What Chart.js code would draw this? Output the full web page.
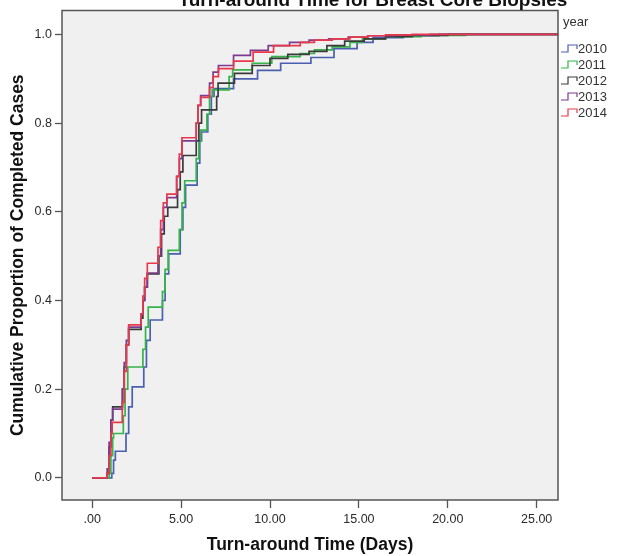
<!DOCTYPE html>
<html>
<head>
<meta charset="utf-8">
<title>Turn-around Time for Breast Core Biopsies</title>
<script src="https://cdn.jsdelivr.net/npm/chart.js@4.4.1/dist/chart.umd.min.js"></script>
<style>
  body { margin: 0; background: #fff; }
  #wrap { width: 624px; height: 556px; }
</style>
</head>
<body>
<div id="wrap"><canvas id="tatChart" width="624" height="556"></canvas></div>
<script>
// cumulative proportion of completed cases (step points)
const years = ['2010', '2011', '2012', '2013', '2014'];
const yearColors = ['#4a5fb0', '#35b44a', '#3a3a3a', '#7b3b8e', '#e8384a'];

const days2010 = [0, 1.1, 1.2, 1.3, 1.9, 2.05, 2.25, 2.9, 3.05, 3.26, 3.95, 4.1, 4.3, 4.95, 5.1, 5.25, 5.9, 6.05, 6.15, 6.5, 6.7, 6.85, 7.95, 9.3, 10.6, 12.3, 13.6, 14.9, 15.8, 17.5, 19.5, 27];
const prop2010 = [0, 0.01, 0.04, 0.06, 0.10, 0.16, 0.205, 0.25, 0.31, 0.356, 0.40, 0.46, 0.505, 0.56, 0.61, 0.66, 0.71, 0.76, 0.78, 0.82, 0.86, 0.878, 0.90, 0.919, 0.935, 0.948, 0.968, 0.982, 0.993, 0.997, 1.0, 1.0];

const days2011 = [0, 0.95, 1.05, 1.15, 1.2, 1.75, 1.85, 2.0, 2.85, 3.0, 3.15, 3.95, 4.1, 4.27, 4.9, 5.05, 5.2, 5.85, 6.0, 6.1, 6.45, 6.6, 6.75, 7.7, 7.9, 9.0, 10.1, 11.7, 12.5, 13.5, 14.5, 15.2, 16.5, 18.5, 21, 27];
const prop2011 = [0, 0.01, 0.05, 0.09, 0.10, 0.14, 0.20, 0.25, 0.29, 0.34, 0.385, 0.42, 0.47, 0.513, 0.56, 0.62, 0.67, 0.72, 0.76, 0.784, 0.82, 0.86, 0.875, 0.905, 0.92, 0.935, 0.95, 0.957, 0.965, 0.972, 0.982, 0.99, 0.995, 0.998, 1.0, 1.0];

const days2012 = [0, 0.84, 0.95, 1.05, 1.15, 1.7, 1.8, 1.92, 2.05, 2.75, 2.85, 2.95, 3.1, 3.75, 3.9, 4.05, 4.25, 4.8, 4.95, 5.1, 5.85, 6.0, 6.15, 7.0, 7.08, 8.0, 9.0, 10.0, 11.0, 12.2, 13.2, 14.2, 15.3, 16.5, 18, 20, 27];
const prop2012 = [0, 0.01, 0.07, 0.13, 0.16, 0.20, 0.25, 0.30, 0.335, 0.36, 0.40, 0.43, 0.46, 0.50, 0.55, 0.59, 0.61, 0.65, 0.69, 0.727, 0.76, 0.80, 0.83, 0.86, 0.89, 0.912, 0.93, 0.946, 0.955, 0.962, 0.975, 0.985, 0.99, 0.995, 0.998, 1.0, 1.0];

const days2013 = [0, 0.84, 0.95, 1.05, 1.15, 1.7, 1.8, 1.92, 2.05, 2.75, 2.85, 2.95, 3.1, 3.7, 3.85, 4.0, 4.2, 4.75, 4.9, 5.05, 5.85, 5.95, 6.1, 6.6, 6.8, 7.1, 7.95, 8.9, 9.9, 11.1, 12.2, 13.3, 14.4, 15.5, 17, 19, 27];
const prop2013 = [0, 0.02, 0.08, 0.13, 0.155, 0.20, 0.26, 0.31, 0.34, 0.37, 0.40, 0.43, 0.462, 0.50, 0.56, 0.61, 0.632, 0.68, 0.72, 0.76, 0.80, 0.84, 0.862, 0.89, 0.915, 0.93, 0.953, 0.964, 0.975, 0.982, 0.987, 0.99, 0.994, 0.997, 0.999, 1.0, 1.0];

const days2014 = [0, 0.84, 0.95, 1.05, 1.12, 1.69, 1.8, 1.92, 2.05, 2.75, 2.85, 2.95, 3.1, 3.7, 3.85, 4.0, 4.2, 4.75, 4.9, 5.05, 5.85, 5.95, 6.1, 6.6, 6.8, 7.1, 7.95, 9.05, 10.2, 11.7, 12.5, 13.5, 14.5, 15.5, 16.5, 18, 27];
const prop2014 = [0, 0.01, 0.05, 0.10, 0.125, 0.17, 0.24, 0.30, 0.345, 0.37, 0.41, 0.45, 0.484, 0.52, 0.58, 0.62, 0.64, 0.68, 0.73, 0.767, 0.80, 0.84, 0.858, 0.88, 0.905, 0.923, 0.94, 0.96, 0.975, 0.982, 0.987, 0.99, 0.994, 0.997, 0.999, 1.0, 1.0];

const xTicks = [0, 5, 10, 15, 20, 25];
const xTickLabels = ['.00', '5.00', '10.00', '15.00', '20.00', '25.00'];
const yTicks = [0, 0.2, 0.4, 0.6, 0.8, 1.0];
const yTickLabels = ['0.0', '0.2', '0.4', '0.6', '0.8', '1.0'];

const allDays = [days2010, days2011, days2012, days2013, days2014];
const allProps = [prop2010, prop2011, prop2012, prop2013, prop2014];

Chart.defaults.font.family = "'Liberation Sans', Arial, sans-serif";
Chart.defaults.color = '#333';

const FONT = "'Liberation Sans', Arial, sans-serif";

// gray plot background, frame, cut-off title and the step legend
const decorations = {
    id: 'decorations',
    beforeDraw(chart) {
        const a = chart.chartArea;
        const ctx = chart.ctx;
        ctx.save();
        ctx.fillStyle = '#f0f0f0';
        ctx.fillRect(a.left, a.top, a.right - a.left, a.bottom - a.top);
        ctx.restore();
    },
    afterDraw(chart) {
        const a = chart.chartArea;
        const ctx = chart.ctx;
        ctx.save();
        ctx.strokeStyle = '#555';
        ctx.lineWidth = 1.5;
        ctx.strokeRect(a.left, a.top, a.right - a.left, a.bottom - a.top);

        // title sits mostly above the canvas, like the original
        ctx.fillStyle = '#111';
        ctx.font = 'bold 19px ' + FONT;
        ctx.textAlign = 'center';
        ctx.textBaseline = 'alphabetic';
        ctx.fillText('Turn-around Time for Breast Core Biopsies', 373, 6);

        // legend
        ctx.font = '13px ' + FONT;
        ctx.textAlign = 'left';
        ctx.textBaseline = 'middle';
        ctx.fillStyle = '#333';
        ctx.fillText('year', a.right + 5, 22);
        years.forEach((yr, i) => {
            const y = 48 + i * 16;
            const x0 = a.right + 3;
            ctx.strokeStyle = yearColors[i];
            ctx.lineWidth = 1.2;
            ctx.beginPath();
            ctx.moveTo(x0, y + 4);
            ctx.lineTo(x0 + 7, y + 4);
            ctx.lineTo(x0 + 7, y - 3);
            ctx.lineTo(x0 + 16, y - 3);
            ctx.lineTo(x0 + 16, y + 1);
            ctx.stroke();
            ctx.fillStyle = '#333';
            ctx.fillText(yr, x0 + 17, y + 1);
        });
        ctx.restore();
    }
};

let ctx = document.getElementById('tatChart').getContext('2d');
let tatChart = new Chart(ctx, {
    type: 'line',
    data: {
        datasets: years.map((yr, i) => ({
            label: yr,
            data: allDays[i].map((d, j) => ({ x: d, y: allProps[i][j] })),
            borderColor: yearColors[i],
            borderWidth: 1.7,
            stepped: 'before',
            pointRadius: 0,
            fill: false,
            order: years.length - i // 2014 drawn on top
        }))
    },
    options: {
        responsive: false,
        animation: false,
        events: [],
        layout: {
            padding: { top: 10, right: 66, left: 0, bottom: 0 }
        },
        scales: {
            x: {
                type: 'linear',
                min: -1.7,
                max: 26.2,
                afterFit: scale => { scale.height = 56; },
                afterBuildTicks: scale => { scale.ticks = xTicks.map(v => ({ value: v })); },
                ticks: {
                    autoSkip: false,
                    maxRotation: 0,
                    padding: 4,
                    font: { size: 12.5 },
                    color: '#2a2a2a',
                    callback: (value) => xTickLabels[xTicks.indexOf(value)]
                },
                grid: {
                    drawOnChartArea: false,
                    drawTicks: true,
                    tickLength: 8,
                    tickWidth: 1.3,
                    tickColor: '#555'
                },
                border: { display: false },
                title: {
                    display: true,
                    text: 'Turn-around Time (Days)',
                    font: { size: 17.5, weight: 'bold' },
                    color: '#111',
                    padding: { top: 0, bottom: 0 }
                }
            },
            y: {
                type: 'linear',
                min: -0.05,
                max: 1.054,
                afterFit: scale => { scale.width = 62; },
                afterBuildTicks: scale => { scale.ticks = yTicks.map(v => ({ value: v })); },
                ticks: {
                    autoSkip: false,
                    padding: 3,
                    font: { size: 12.5 },
                    color: '#2a2a2a',
                    callback: (value) => yTickLabels[yTicks.indexOf(value)]
                },
                grid: {
                    drawOnChartArea: false,
                    drawTicks: true,
                    tickLength: 7,
                    tickWidth: 1.3,
                    tickColor: '#555'
                },
                border: { display: false },
                title: {
                    display: true,
                    text: 'Cumulative Proportion of Completed Cases',
                    font: { size: 17.5, weight: 'bold' },
                    color: '#111',
                    padding: { top: 8, bottom: 0 }
                }
            }
        },
        plugins: {
            legend: { display: false },
            tooltip: { enabled: false },
            title: { display: false }
        }
    },
    plugins: [decorations]
});
</script>
</body>
</html>
